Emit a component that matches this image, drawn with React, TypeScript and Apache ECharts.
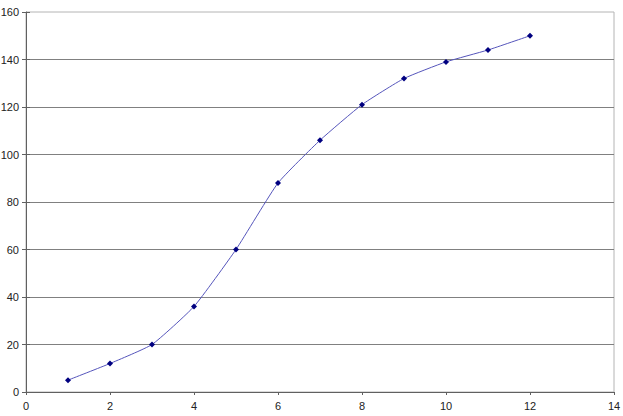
import React, { useEffect, useRef } from "react";
import * as echarts from "echarts";

const xValues = [1, 2, 3, 4, 5, 6, 7, 8, 9, 10, 11, 12];
const yValues = [5, 12, 20, 36, 60, 88, 106, 121, 132, 139, 144, 150];

export default function App() {
  const ref = useRef<HTMLDivElement>(null);
  useEffect(() => {
    if (!ref.current) return;
    const chart = echarts.init(ref.current, undefined, { renderer: "svg" });
    const labelStyle = { fontFamily: "Liberation Sans, Arial, sans-serif", fontSize: 11, color: "#222" };
    chart.setOption({
      animation: false,
      backgroundColor: "#fff",
      grid: {
        left: 26,
        top: 12,
        right: 9,
        bottom: 24,
        outerBoundsMode: "none",
        containLabel: false,
        show: true,
        borderColor: "#b4b4b4",
        borderWidth: 1,
        backgroundColor: "#fff",
      },
      xAxis: {
        type: "value",
        min: 0,
        max: 14,
        interval: 2,
        axisLine: { show: true, lineStyle: { color: "#606060", width: 1 } },
        axisTick: { show: true, length: 3, lineStyle: { color: "#606060" } },
        axisLabel: { ...labelStyle, margin: 8 },
        splitLine: { show: false },
      },
      yAxis: [
        {
          type: "value",
          min: 0,
          max: 160,
          interval: 20,
          axisLine: { show: true, lineStyle: { color: "#606060", width: 1 } },
          axisTick: { show: true, length: 4, lineStyle: { color: "#606060" } },
          axisLabel: { ...labelStyle, margin: 7 },
          splitLine: { show: true, showMaxLine: false, lineStyle: { color: "#808080", width: 1 } },
        },
        {
          type: "value",
          position: "left",
          min: 0,
          max: 160,
          interval: 20,
          axisLine: { show: false },
          axisTick: { show: true, inside: true, length: 4, lineStyle: { color: "#606060" } },
          axisLabel: { show: false },
          splitLine: { show: false },
        },
      ],
      series: [
        {
          type: "line",
          yAxisIndex: 0,
          data: xValues.map((x, i) => [x, yValues[i]]),
          smooth: 0.15,
          symbol: "diamond",
          symbolSize: 6,
          itemStyle: { color: "#000080" },
          lineStyle: { color: "#5555bb", width: 1 },
        },
      ],
    });
    return () => chart.dispose();
  }, []);
  return (
    <div
      ref={ref}
      style={{ position: "fixed", left: 0, top: 0, width: 623, height: 416, background: "#fff" }}
    />
  );
}
